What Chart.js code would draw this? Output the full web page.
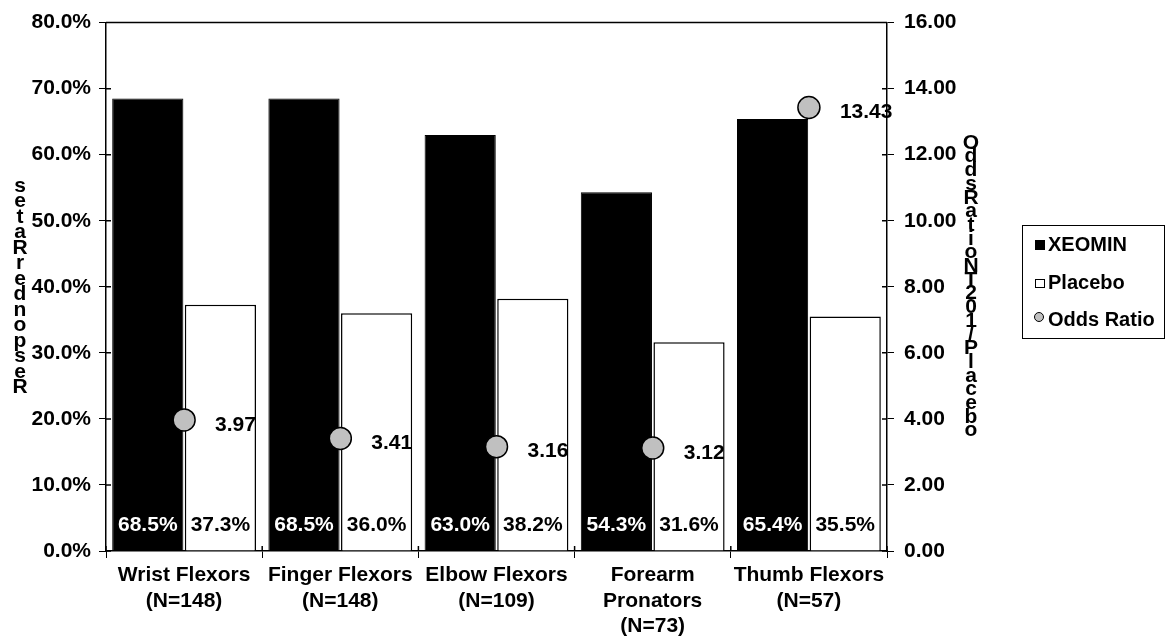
<!DOCTYPE html>
<html>
<head>
<meta charset="utf-8">
<script src="https://cdn.jsdelivr.net/npm/chart.js@4.4.0/dist/chart.umd.min.js"></script>
<style>
  body { margin: 0; background: #fff; }
  #wrap { width: 1166px; height: 643px; position: relative; }
</style>
</head>
<body>
<div id="wrap"><canvas id="chart"></canvas></div>
<script>
const categories = [
  ['Wrist Flexors', '(N=148)'],
  ['Finger Flexors', '(N=148)'],
  ['Elbow Flexors', '(N=109)'],
  ['Forearm', 'Pronators', '(N=73)'],
  ['Thumb Flexors', '(N=57)']
];
const xeomin = [68.5, 68.5, 63.0, 54.3, 65.4];
const placebo = [37.3, 36.0, 38.2, 31.6, 35.5];
const oddsRatio = [3.97, 3.41, 3.16, 3.12, 13.43];

const leftTitle = 'Responder Rates';
const rightTitle = 'Odds Ratio NT201/Placebo';

const FONT = '"Liberation Sans", Arial, sans-serif';
const fontSize = 21;

// labels inside bars, odds labels, stacked axis titles, legend, top border, inner ticks
const extras = {
  id: 'extras',
  afterDatasetsDraw(chart) {
    const ctx = chart.ctx;
    const area = chart.chartArea;
    ctx.save();
    ctx.font = 'bold ' + fontSize + 'px ' + FONT;
    ctx.textBaseline = 'middle';

    // bar value labels
    [0, 1].forEach(i => {
      const meta = chart.getDatasetMeta(i);
      const vals = chart.data.datasets[i].data;
      meta.data.forEach((bar, j) => {
        ctx.fillStyle = i === 0 ? '#fff' : '#000';
        ctx.textAlign = 'center';
        ctx.fillText(vals[j].toFixed(1) + '%', bar.x, area.bottom - 26);
      });
    });

    // odds ratio labels
    const om = chart.getDatasetMeta(2);
    om.data.forEach((pt, j) => {
      ctx.fillStyle = '#000';
      ctx.textAlign = 'left';
      ctx.fillText(oddsRatio[j].toFixed(2), pt.x + 31, pt.y + 5);
    });

    // top border and inward tick marks
    ctx.strokeStyle = '#000';
    ctx.lineWidth = 1.5;
    ctx.beginPath();
    ctx.moveTo(area.left, area.top);
    ctx.lineTo(area.right, area.top);
    const ys = chart.scales.y, ys1 = chart.scales.y1;
    ys.ticks.forEach(t => {
      const py = ys.getPixelForValue(t.value);
      ctx.moveTo(area.left, py);
      ctx.lineTo(area.left + 5, py);
    });
    ys1.ticks.forEach(t => {
      const py = ys1.getPixelForValue(t.value);
      ctx.moveTo(area.right - 5, py);
      ctx.lineTo(area.right, py);
    });
    const cw = (area.right - area.left) / categories.length;
    for (let k = 0; k <= categories.length; k++) {
      const px = area.left + k * cw;
      ctx.moveTo(px, area.bottom - 5);
      ctx.lineTo(px, area.bottom);
    }
    ctx.stroke();

    // stacked axis titles
    ctx.textAlign = 'center';
    ctx.fillStyle = '#000';
    const mid = (area.top + area.bottom) / 2;
    const lchars = leftTitle.replace(/ /g, '').split('');
    const lstep = 15.5;
    lchars.forEach((c, k) => {
      ctx.fillText(c, 20, mid + (lchars.length - 1) * lstep / 2 - k * lstep);
    });
    const rchars = rightTitle.replace(/ /g, '').split('');
    const rstep = 13.7;
    rchars.forEach((c, k) => {
      ctx.fillText(c, 971, mid - (rchars.length - 1) * rstep / 2 + k * rstep);
    });

    // legend
    const lx = 1022, ly = 225, lw = 142, lh = 113;
    ctx.lineWidth = 1;
    ctx.strokeRect(lx + 0.5, ly + 0.5, lw, lh);
    ctx.textAlign = 'left';
    ctx.font = 'bold 20px ' + FONT;
    const items = [
      { text: 'XEOMIN', y: ly + 20, kind: 'fill' },
      { text: 'Placebo', y: ly + 58, kind: 'open' },
      { text: 'Odds Ratio', y: ly + 95, kind: 'dot' }
    ];
    items.forEach(it => {
      if (it.kind === 'fill') {
        ctx.fillStyle = '#000';
        ctx.fillRect(lx + 13, it.y - 5, 10, 10);
      } else if (it.kind === 'open') {
        ctx.fillStyle = '#fff';
        ctx.fillRect(lx + 13, it.y - 4, 10, 9);
        ctx.strokeRect(lx + 13.5, it.y - 3.5, 9, 8);
      } else {
        ctx.beginPath();
        ctx.arc(lx + 17, it.y - 3, 4.5, 0, Math.PI * 2);
        ctx.fillStyle = '#c0c0c0';
        ctx.fill();
        ctx.stroke();
      }
      ctx.fillStyle = '#000';
      ctx.fillText(it.text, lx + 26, it.y);
    });
    ctx.restore();
  }
};

new Chart(document.getElementById('chart'), {
  type: 'bar',
  data: {
    labels: categories,
    datasets: [
      {
        label: 'XEOMIN',
        data: xeomin,
        backgroundColor: '#000',
        borderColor: '#000',
        borderWidth: 1,
        yAxisID: 'y',
        order: 2,
        categoryPercentage: 0.93,
        barPercentage: 0.98
      },
      {
        label: 'Placebo',
        data: placebo,
        backgroundColor: '#fff',
        borderColor: '#000',
        borderWidth: 1.5,
        yAxisID: 'y',
        order: 2,
        categoryPercentage: 0.93,
        barPercentage: 0.98
      },
      {
        type: 'line',
        label: 'Odds Ratio',
        data: oddsRatio,
        yAxisID: 'y1',
        showLine: false,
        pointRadius: 11,
        pointBackgroundColor: '#c0c0c0',
        pointBorderColor: '#000',
        pointBorderWidth: 1.5,
        order: 0
      }
    ]
  },
  options: {
    responsive: true,
    maintainAspectRatio: false,
    animation: false,
    layout: { padding: { top: 17 } },
    plugins: {
      legend: { display: false },
      tooltip: { enabled: false }
    },
    scales: {
      x: {
        offset: true,
        grid: { display: true, drawOnChartArea: false, color: '#000', tickLength: 7, offset: true },
        border: { color: '#000', width: 1.5 },
        ticks: { color: '#000', font: { family: FONT, size: fontSize, weight: 'bold', lineHeight: 1.2 }, padding: 5, maxRotation: 0, autoSkip: false },
        afterFit(scale) { scale.height = 92; }
      },
      y: {
        position: 'left',
        min: 0,
        max: 80,
        ticks: {
          stepSize: 10,
          color: '#000',
          font: { family: FONT, size: fontSize, weight: 'bold' },
          padding: 8,
          callback: v => v.toFixed(1) + '%'
        },
        grid: { drawOnChartArea: false, color: '#000', tickLength: 7 },
        border: { color: '#000', width: 1.5 },
        afterFit(scale) { scale.width = 106; }
      },
      y1: {
        position: 'right',
        min: 0,
        max: 16,
        ticks: {
          stepSize: 2,
          color: '#000',
          font: { family: FONT, size: fontSize, weight: 'bold' },
          padding: 10,
          callback: v => v.toFixed(2)
        },
        grid: { drawOnChartArea: false, color: '#000', tickLength: 7 },
        border: { color: '#000', width: 1.5 },
        afterFit(scale) { scale.width = 279; }
      }
    }
  },
  plugins: [extras]
});
</script>
</body>
</html>
